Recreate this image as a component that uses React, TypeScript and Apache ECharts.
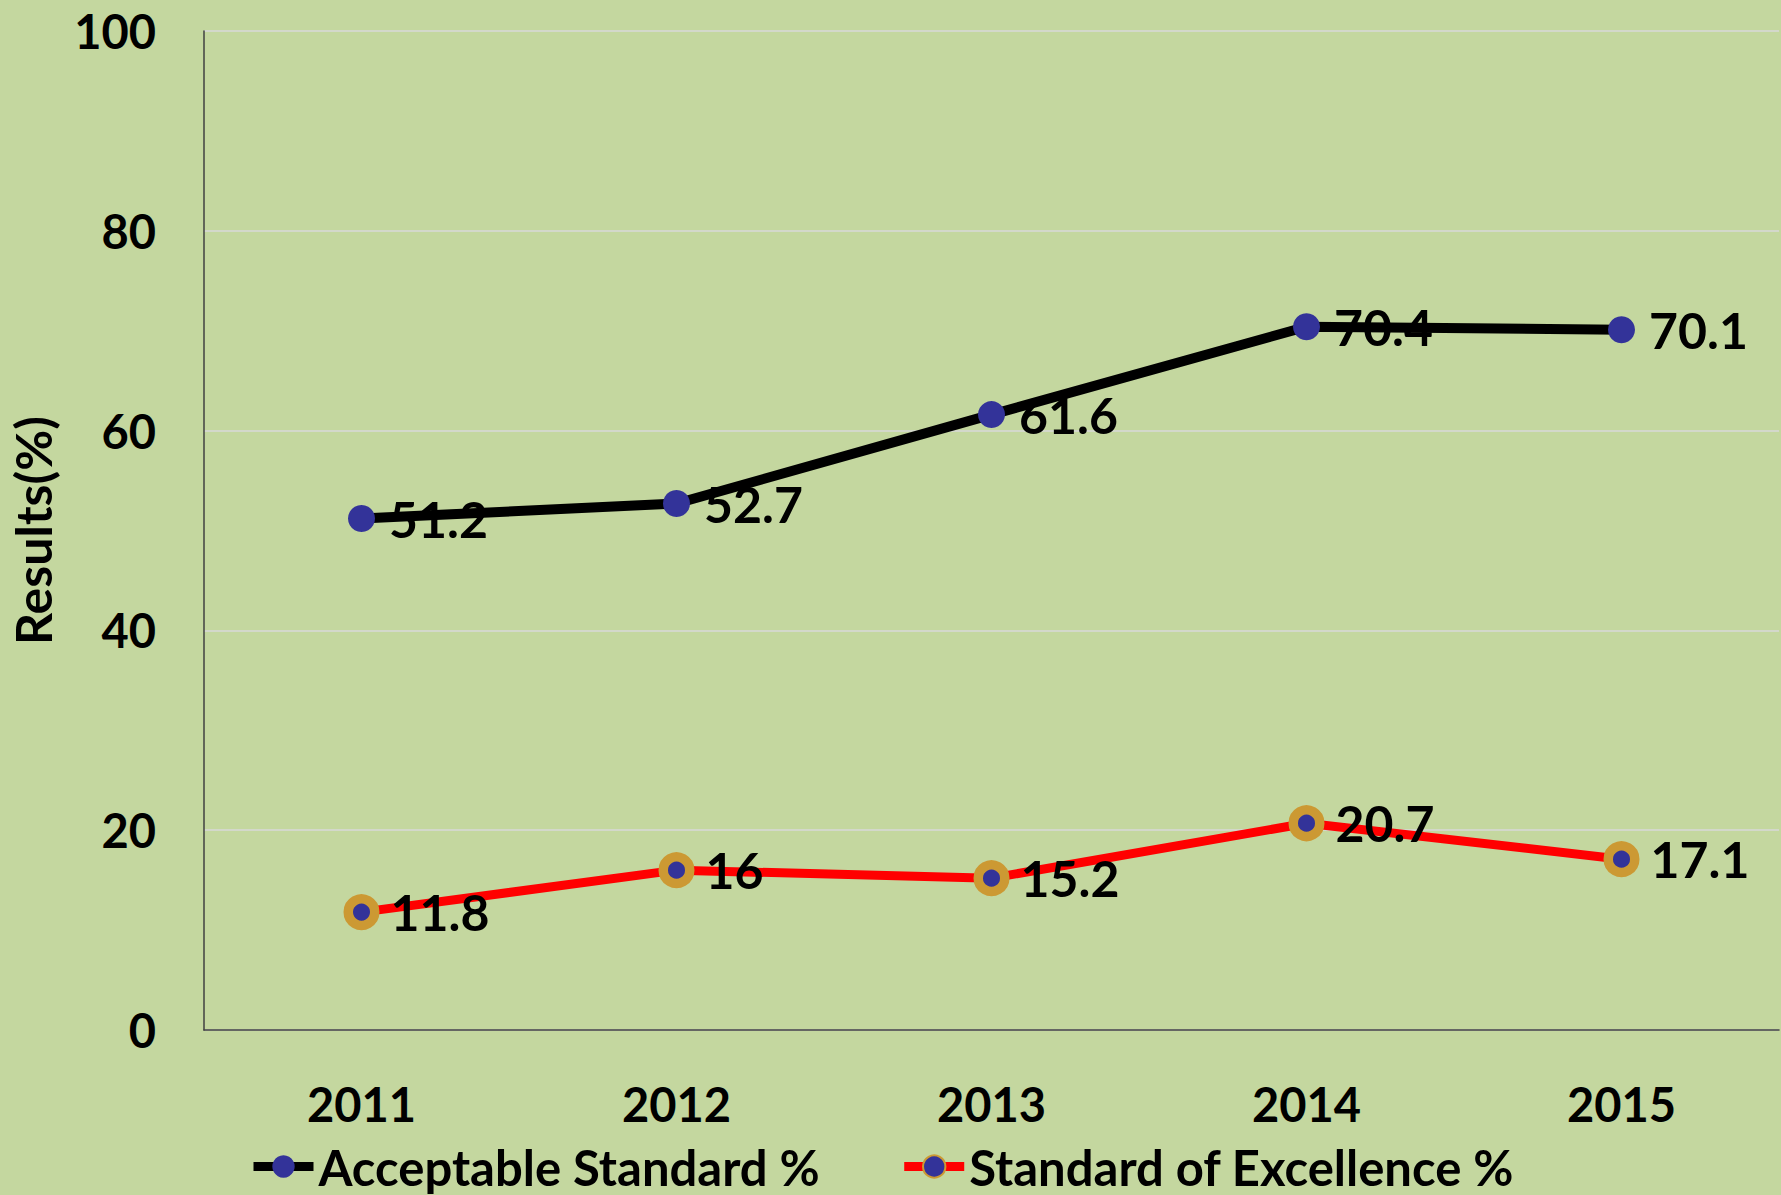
import React, { useEffect, useRef } from "react";
import * as echarts from "echarts";

const years = ["2011", "2012", "2013", "2014", "2015"];
const acceptable = [51.2, 52.7, 61.6, 70.4, 70.1];
const excellence = [11.8, 16, 15.2, 20.7, 17.1];
const yTicks = { min: 0, max: 100, interval: 20 };

const FONT = "Lato";

export default function App() {
  const ref = useRef<HTMLDivElement>(null);
  useEffect(() => {
    document.body.style.margin = "0";
    const chart = echarts.init(ref.current!, null, { renderer: "svg" });
    const labelStyle = {
      show: true,
      position: "right",
      distance: 14,
      color: "#000",
      fontFamily: FONT,
      fontWeight: "bold",
      fontSize: 50,
    };
    chart.setOption({
      animation: false,
      backgroundColor: "#C4D79F",
      textStyle: { fontFamily: FONT },
      grid: { left: 200, right: 2, top: 31, bottom: 165, containLabel: false },
      legend: {
        left: 244,
        top: 1137,
        itemWidth: 60,
        itemHeight: 28,
        itemGap: 80,
        lineStyle: { width: 9 },
        textStyle: { fontFamily: FONT, fontWeight: "bold", fontSize: 49, color: "#000" },
        data: ["Acceptable Standard %", "Standard of Excellence %"],
      },
      xAxis: {
        type: "category",
        data: years,
        boundaryGap: true,
        axisLine: { lineStyle: { color: "#404040", width: 1.5 } },
        axisTick: { show: false },
        axisLabel: {
          margin: 50,
          color: "#000",
          fontFamily: FONT,
          fontWeight: "bold",
          fontSize: 47,
        },
      },
      yAxis: {
        type: "value",
        min: yTicks.min,
        max: yTicks.max,
        interval: yTicks.interval,
        name: "Results(%)",
        nameLocation: "middle",
        nameGap: 146,
        nameTextStyle: { color: "#000", fontFamily: FONT, fontWeight: "bold", fontSize: 50 },
        axisLine: { show: true, lineStyle: { color: "#404040", width: 1.5 } },
        axisTick: { show: false },
        splitLine: { lineStyle: { color: "#D9D9D9", width: 1.5 } },
        axisLabel: {
          margin: 48,
          color: "#000",
          fontFamily: FONT,
          fontWeight: "bold",
          fontSize: 47,
        },
      },
      series: [
        {
          name: "Acceptable Standard %",
          type: "line",
          data: acceptable,
          symbol: "circle",
          symbolSize: 27,
          lineStyle: { color: "#000", width: 10 },
          itemStyle: { color: "#333399" },
          label: labelStyle,
          z: 3,
        },
        {
          name: "Standard of Excellence %",
          type: "line",
          data: excellence,
          symbol: "circle",
          symbolSize: 26.5,
          lineStyle: { color: "#FF0000", width: 9 },
          itemStyle: { color: "#333399", borderColor: "#CC9933", borderWidth: 9.5 },
          label: { ...labelStyle, distance: 11 },
          z: 3,
        },
      ],
    });
    return () => chart.dispose();
  }, []);
  return <div ref={ref} style={{ width: 1781, height: 1195 }} />;
}
